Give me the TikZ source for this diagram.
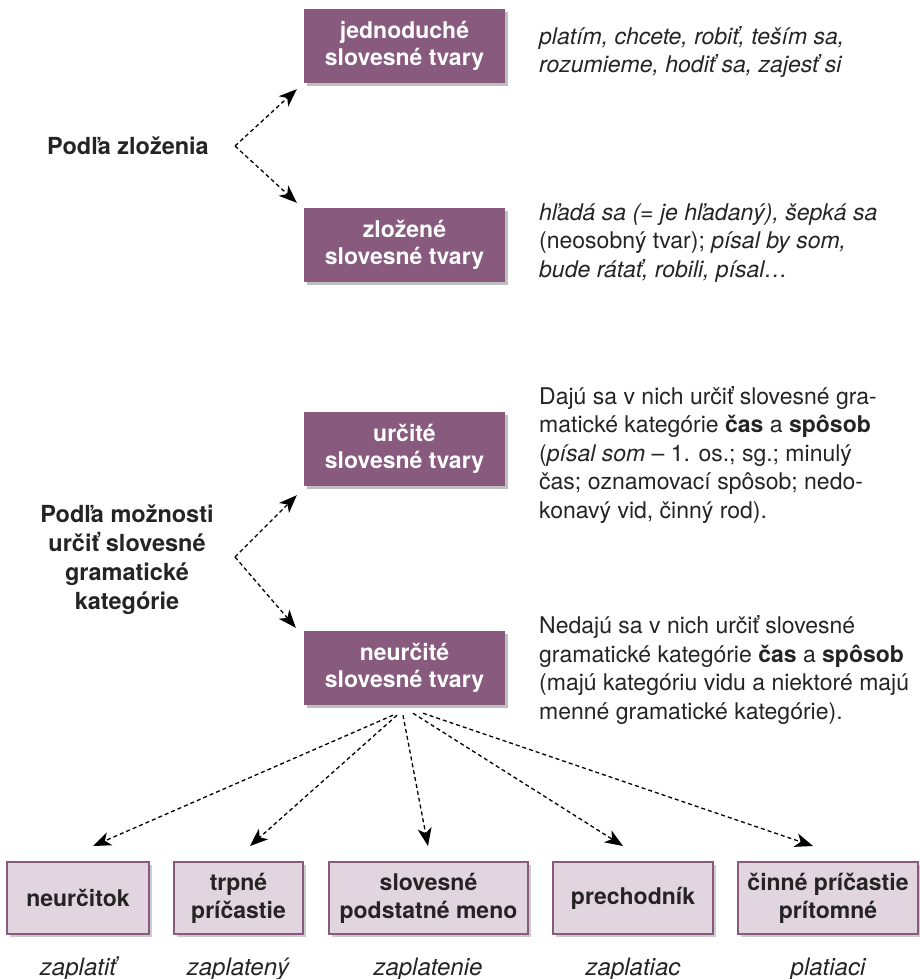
\documentclass[tikz,border=0pt]{standalone}
\usepackage{fontspec}
\setmainfont{TeX Gyre Heros}
\usetikzlibrary{arrows.meta,shadows}
\definecolor{plum}{HTML}{875A7E}
\definecolor{lilac}{HTML}{E1D6E0}
\definecolor{ink}{HTML}{262324}
\begin{document}
\begin{tikzpicture}[x=1pt,y=-1pt,
  darkbox/.style={fill=plum, text=white, minimum width=201pt, minimum height=74pt,
    align=center, inner sep=0pt, font=\fontsize{23}{27}\selectfont\bfseries,
    drop shadow={shadow xshift=3pt, shadow yshift=-3pt, opacity=0.25, fill=black}},
  lightbox/.style={fill=lilac, draw=plum, line width=2pt, text=ink, minimum height=72pt,
    align=center, inner sep=0pt, font=\fontsize{23}{28}\selectfont\bfseries,
    drop shadow={shadow xshift=3pt, shadow yshift=-3pt, opacity=0.2, fill=black}},
  heading/.style={text=ink, align=center, inner sep=0pt, font=\fontsize{23.5}{29}\selectfont\bfseries},
  body/.style={text=ink, align=left, anchor=west, inner sep=0pt, font=\fontsize{23}{28.5}\selectfont},
  example/.style={text=ink, anchor=base, inner sep=0pt, font=\fontsize{24}{28}\selectfont\itshape},
  arr/.style={draw=black, line width=1.3pt, dash pattern=on 4pt off 3pt,
    -{Stealth[length=18pt,width=14pt,inset=5pt]}}
]
\useasboundingbox (0,0) rectangle (919,979);

% top section
\node[darkbox] (b1) at (404.5,46) {jednoduché\\slovesné tvary};
\node[darkbox] (b2) at (404.5,245) {zložené\\slovesné tvary};
\node[heading] (h1) at (128,146) {Podľa zloženia};
\coordinate (s1) at (235,146);
\draw[arr] (s1) -- ([shift={(-7pt,-6pt)}]b1.south west);
\draw[arr] (s1) -- ([shift={(-7pt,5pt)}]b2.north west);

\node[body] (t1) at (539,52) {\itshape platím, chcete, robiť, teším sa,\\\itshape rozumieme, hodiť sa, zajesť si};
\node[body] (t2) at (539,243) {\textit{hľadá sa (= je hľadaný), šepká sa}\\(neosobný tvar); \textit{písal by som,}\\\textit{bude rátať, robili, písal…}};

% middle section
\node[darkbox] (b3) at (404.5,449) {určité\\slovesné tvary};
\node[darkbox] (b4) at (404.5,668) {neurčité\\slovesné tvary};
\node[heading] (h2) at (127,560) {Podľa možnosti\\určiť slovesné\\gramatické\\kategórie};
\coordinate (s2) at (235,557);
\draw[arr] (s2) -- ([shift={(-7pt,-9pt)}]b3.south west);
\draw[arr] (s2) -- ([shift={(-8pt,3pt)}]b4.north west);

\node[body] (t3) at (539,455) {Dajú sa v nich určiť slovesné gra-\\matické kategórie \textbf{čas} a \textbf{spôsob}\\(\textit{písal som} – 1. os.; sg.; minulý\\čas; oznamovací spôsob; nedo-\\konavý vid, činný rod).};
\node[body] (t4) at (539,670) {Nedajú sa v nich určiť slovesné\\gramatické kategórie \textbf{čas} a \textbf{spôsob}\\(majú kategóriu vidu a niektoré majú\\menné gramatické kategórie).};

% bottom row
\node[lightbox, minimum width=142pt] (c1) at (78,898) {neurčitok};
\node[lightbox, minimum width=129pt] (c2) at (238.5,898) {trpné\\príčastie};
\node[lightbox, minimum width=199pt] (c3) at (428.5,898) {slovesné\\podstatné meno};
\node[lightbox, minimum width=160pt] (c4) at (633,898) {prechodník};
\node[lightbox, minimum width=180pt] (c5) at (828,898) {činné príčastie\\prítomné};

\draw[arr] ([shift={(-11.5pt,-10pt)}]b4.south) -- ([shift={(15pt,15pt)}]c1.north);
\draw[arr] ([shift={(-7.5pt,-10pt)}]b4.south) -- ([shift={(11.5pt,15pt)}]c2.north);
\draw[arr] ([shift={(-1.5pt,-10pt)}]b4.south) -- ([shift={(-0.5pt,15pt)}]c3.north);
\draw[arr] ([shift={(8.5pt,-8pt)}]b4.south) -- ([shift={(-10pt,15pt)}]c4.north);
\draw[arr] ([shift={(18.5pt,-8pt)}]b4.south) -- ([shift={(-15pt,15pt)}]c5.north);

\node[example] (e1) at (78,975) {zaplatiť};
\node[example] (e2) at (238,975) {zaplatený};
\node[example] (e3) at (428,975) {zaplatenie};
\node[example] (e4) at (633,975) {zaplatiac};
\node[example] (e5) at (828,975) {platiaci};
\end{tikzpicture}
\end{document}
